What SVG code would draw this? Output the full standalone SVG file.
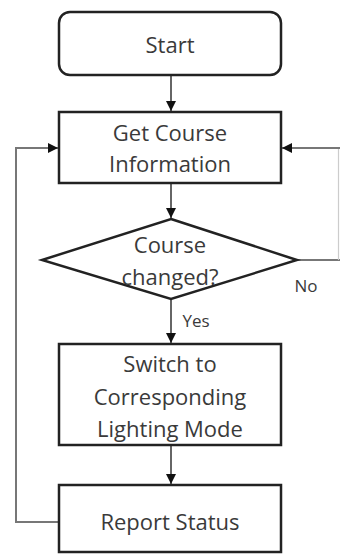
<svg xmlns="http://www.w3.org/2000/svg" width="340" height="554" viewBox="0 0 340 554">
<defs>
<style>
.box{fill:#fff;stroke:#222;stroke-width:2.5}
.t{font-family:"Open Sans","Liberation Sans",sans-serif;font-size:22px;fill:#3a3a3a;text-anchor:middle}
.lbl{font-family:"Open Sans","Liberation Sans",sans-serif;font-size:17px;fill:#3a3a3a;text-anchor:middle}
.c{fill:none;stroke:#333;stroke-width:1.5}
.fb{fill:none;stroke:#777;stroke-width:2}
.fb2{fill:none;stroke:#ccc;stroke-width:1.2}
</style>
<marker id="ah" viewBox="0 0 10 10" refX="10" refY="5" markerWidth="10" markerHeight="10" markerUnits="userSpaceOnUse" orient="auto">
<path d="M0,0 L10,5 L0,10 Z" fill="#111"/>
</marker>
</defs>
<rect width="340" height="554" fill="#fff"/>
<g id="connectors">
<line class="c" x1="171" y1="75" x2="171" y2="111" marker-end="url(#ah)"/>
<line class="c" x1="171" y1="183" x2="171" y2="218" marker-end="url(#ah)"/>
<line class="c" x1="171" y1="299" x2="171" y2="343" marker-end="url(#ah)"/>
<line class="c" x1="171" y1="445" x2="171" y2="484" marker-end="url(#ah)"/>
<polyline class="fb" points="59,522 16,522 16,148 58,148" marker-end="url(#ah)"/>
<line class="fb" x1="297" y1="260" x2="340" y2="260"/>
<line class="fb2" x1="338.5" y1="148" x2="338.5" y2="260"/>
<line class="fb" x1="340" y1="148" x2="282" y2="148" marker-end="url(#ah)"/>
<text class="lbl" x="306" y="292">No</text>
<text class="lbl" x="196" y="327">Yes</text>
</g>
<g id="start">
<rect class="box" x="59" y="12" width="222" height="63" rx="11"/>
<text class="t" x="170" y="53">Start</text>
</g>
<g id="get-course">
<rect class="box" x="59" y="112" width="222" height="71"/>
<text class="t" x="170" y="141">Get Course</text>
<text class="t" x="170" y="172">Information</text>
</g>
<g id="course-changed">
<polygon class="box" points="171,219 297,260 171,299 42,260"/>
<text class="t" x="170" y="253">Course</text>
<text class="t" x="170" y="285">changed?</text>
</g>
<g id="switch">
<rect class="box" x="59" y="344" width="222" height="101"/>
<text class="t" x="170" y="372">Switch to</text>
<text class="t" x="170" y="405">Corresponding</text>
<text class="t" x="170" y="437">Lighting Mode</text>
</g>
<g id="report">
<rect class="box" x="59" y="485" width="222" height="67"/>
<text class="t" x="170" y="530">Report Status</text>
</g>
</svg>
